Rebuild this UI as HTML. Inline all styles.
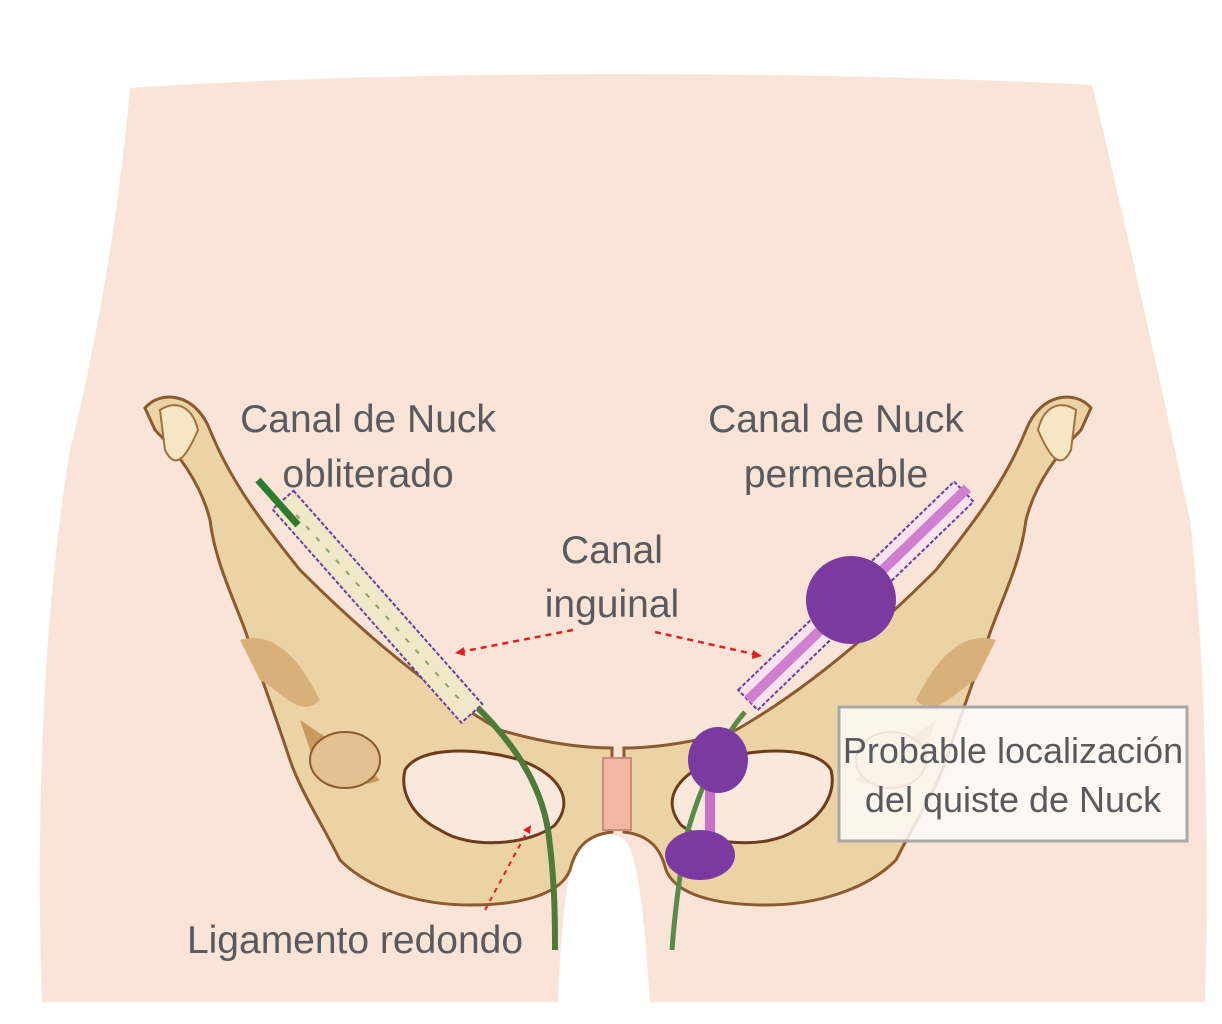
<!DOCTYPE html>
<html><head><meta charset="utf-8"><style>
html,body{margin:0;padding:0;background:#fff;}
svg{display:block}
text{font-family:"Liberation Sans",sans-serif;fill:#5a5a5e;font-size:39px;}
</style></head><body>
<svg width="1222" height="1024" viewBox="0 0 1222 1024" xmlns="http://www.w3.org/2000/svg">
<defs>
<g id="half">
  <!-- wing -->
  <path d="M145,408 C160,390 195,392 210,430 C230,480 260,520 300,570 C360,630 430,690 500,730 C550,745 590,748 612,748 L612,832 C585,835 575,850 570,870 C560,895 520,905 470,905 C420,905 370,890 340,860 C320,820 300,790 290,760 C270,700 255,660 245,630 C230,590 215,560 210,520 C200,480 175,450 155,430 Z" fill="#ecd3a6" stroke="#8b5a2e" stroke-width="3"/>
  <path d="M160,410 C175,400 192,405 198,430 C185,460 175,470 165,450 Z" fill="#f6e6c4" stroke="#a07040" stroke-width="2"/>
  <path d="M240,640 C275,630 300,660 320,700 C300,720 280,690 260,680 Z" fill="#d8b07a"/>
  <path d="M300,720 C330,740 360,760 380,780 C360,790 330,780 315,765 Z" fill="#c99a60"/>
  <ellipse cx="345" cy="760" rx="35" ry="28" fill="#e2c090" stroke="#8b5a2e" stroke-width="2"/>
  <path d="M405,770 C420,745 480,748 520,760 C560,775 575,800 555,825 C530,845 470,850 440,830 C410,815 400,790 405,770 Z" fill="#fbe8dc" stroke="#6e3c1a" stroke-width="3"/>
</g>
</defs>
<!-- body -->
<path d="M130,88 C400,70 800,70 1092,85 C1120,200 1160,380 1190,520 C1205,650 1210,850 1205,1002 L650,1002 C645,930 640,860 625,840 C610,830 590,835 575,850 C565,880 560,950 558,1002 L42,1002 C35,800 45,600 70,450 C100,330 120,200 130,88 Z" fill="#fae4d7"/>
<use href="#half"/>
<use href="#half" transform="translate(1236,0) scale(-1,1)"/>
<rect x="603" y="758" width="28" height="72" fill="#f2b7a3" stroke="#c98e7a" stroke-width="2"/>
<!-- left canal -->
<g transform="translate(283,500) rotate(48.5)">
  <rect x="0" y="-14" width="285" height="28" fill="#f0e8c8" stroke="#6a3fa0" stroke-width="2" stroke-dasharray="4,2"/>
  <line x1="20" y1="0" x2="270" y2="0" stroke="#8aa070" stroke-width="2" stroke-dasharray="5,10"/>
</g>
<line x1="258" y1="480" x2="298" y2="525" stroke="#2e7a2e" stroke-width="7"/>
<path d="M478,708 C510,740 540,780 548,830 C555,880 555,920 555,950" fill="none" stroke="#4e7a3a" stroke-width="6"/>
<!-- right canal -->
<g transform="translate(748,700) rotate(-44)">
  <rect x="0" y="-14" width="300" height="28" fill="#fbe3ec" stroke="#6a3fa0" stroke-width="2" stroke-dasharray="4,2"/>
  <line x1="0" y1="0" x2="305" y2="0" stroke="#d07ed0" stroke-width="10"/>
</g>
<path d="M745,712 C720,740 700,790 688,830 C680,870 675,910 672,950" fill="none" stroke="#5a8a4a" stroke-width="5"/>
<line x1="710" y1="760" x2="710" y2="860" stroke="#c870c8" stroke-width="10"/>
<ellipse cx="851" cy="600" rx="45" ry="44" fill="#7a3aa0"/>
<ellipse cx="718" cy="760" rx="30" ry="33" fill="#7a3aa0"/>
<ellipse cx="700" cy="855" rx="35" ry="25" fill="#7a3aa0"/>
<!-- arrows -->
<path d="M573,630 L460,652" stroke="#e02020" stroke-width="2.5" stroke-dasharray="6,5" fill="none"/>
<path d="M455,653 l9,-6 l1,9 z" fill="#e02020"/>
<path d="M655,632 L758,655" stroke="#e02020" stroke-width="2.5" stroke-dasharray="6,5" fill="none"/>
<path d="M762,656 l-9,-6 l-1,9 z" fill="#e02020"/>
<path d="M485,910 L528,830" stroke="#e02020" stroke-width="2" stroke-dasharray="5,5" fill="none"/>
<path d="M531,825 l-8,5 l7,4 z" fill="#e02020"/>
<!-- box -->
<rect x="839" y="707" width="348" height="134" fill="rgba(255,250,248,0.85)" stroke="#a8a8a8" stroke-width="3"/>
<!-- labels -->
<text x="368" y="432" text-anchor="middle">Canal de Nuck</text>
<text x="368" y="487" text-anchor="middle">obliterado</text>
<text x="836" y="432" text-anchor="middle">Canal de Nuck</text>
<text x="836" y="487" text-anchor="middle">permeable</text>
<text x="612" y="563" text-anchor="middle">Canal</text>
<text x="612" y="617" text-anchor="middle">inguinal</text>
<text x="355" y="953" text-anchor="middle">Ligamento redondo</text>
<text x="1013" y="763" text-anchor="middle" font-size="36" style="font-size:36px">Probable localización</text>
<text x="1013" y="812" text-anchor="middle" style="font-size:36px">del quiste de Nuck</text>
</svg>
</body></html>
